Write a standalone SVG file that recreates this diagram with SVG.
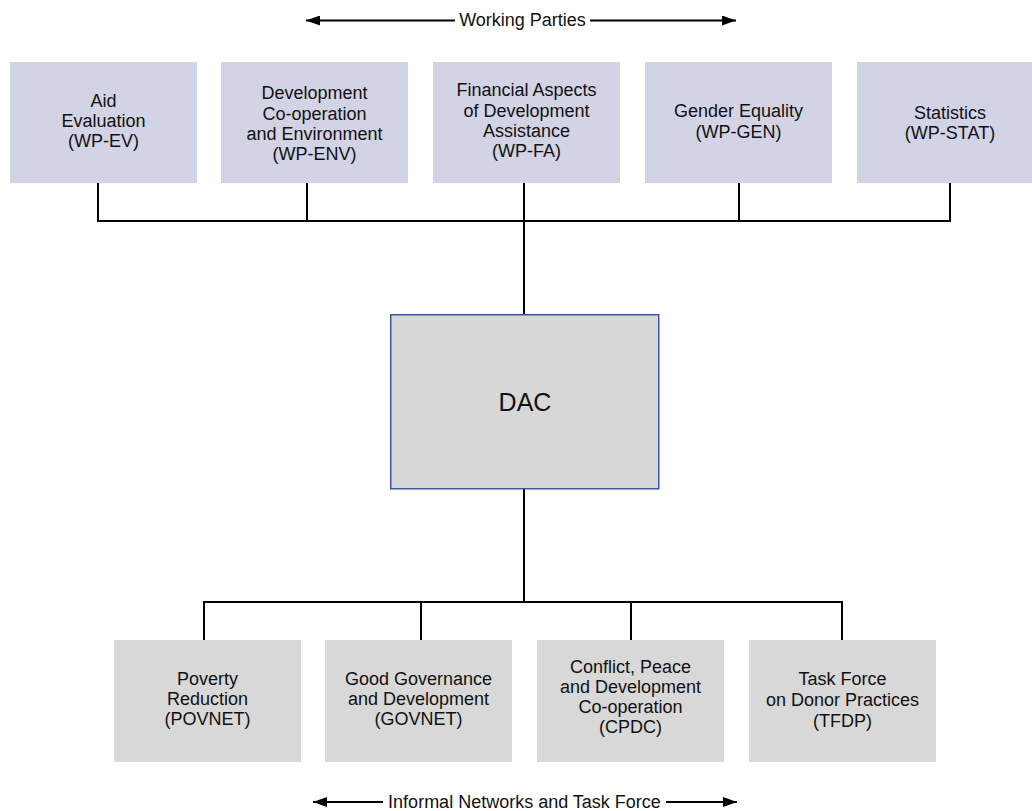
<svg xmlns="http://www.w3.org/2000/svg" width="1032" height="811" viewBox="0 0 1032 811">
<defs>
<marker id="ah" viewBox="0 0 14 10" refX="14" refY="5" markerWidth="14" markerHeight="10" markerUnits="userSpaceOnUse" orient="auto-start-reverse">
<path d="M0,0 L14,5 L0,10 z" fill="#000"/>
</marker>
</defs>
<style>
text{font-family:"Liberation Sans",Arial,sans-serif;font-size:18px;fill:#111;text-anchor:middle}
.wp{fill:#d3d3e6}
.net{fill:#d8d8d8}
.dac{fill:#d7d7d7;stroke:#3c56a3;stroke-width:1.5}
.ln{fill:none;stroke:#000;stroke-width:2}
.arr{fill:none;stroke:#000;stroke-width:1.8}
</style>
<rect width="1032" height="811" fill="#fff"/>
<g id="connectors">
<polyline class="ln" points="98,183 98,221 950,221 950,183"/>
<line class="ln" x1="307" y1="183" x2="307" y2="221"/>
<line class="ln" x1="524" y1="183" x2="524" y2="314"/>
<line class="ln" x1="739" y1="183" x2="739" y2="221"/>
<line class="ln" x1="524" y1="489" x2="524" y2="602"/>
<polyline class="ln" points="204,640 204,602 842,602 842,640"/>
<line class="ln" x1="421" y1="602" x2="421" y2="640"/>
<line class="ln" x1="631" y1="602" x2="631" y2="640"/>
</g>
<g id="working-parties-label">
<line class="arr" x1="455" y1="20.5" x2="306" y2="20.5" marker-end="url(#ah)"/>
<line class="arr" x1="590" y1="20.5" x2="736" y2="20.5" marker-end="url(#ah)"/>
<text x="522.5" y="26">Working Parties</text>
</g>
<g id="wp-ev">
<rect class="wp" x="10" y="62" width="187" height="121"/>
<text x="103.5" y="107">Aid</text>
<text x="103.5" y="127">Evaluation</text>
<text x="103.5" y="147">(WP-EV)</text>
</g>
<g id="wp-env">
<rect class="wp" x="221" y="62" width="187" height="121"/>
<text x="314.5" y="99">Development</text>
<text x="314.5" y="119.5">Co-operation</text>
<text x="314.5" y="140">and Environment</text>
<text x="314.5" y="160">(WP-ENV)</text>
</g>
<g id="wp-fa">
<rect class="wp" x="433" y="62" width="187" height="121"/>
<text x="526.5" y="96">Financial Aspects</text>
<text x="526.5" y="116.5">of Development</text>
<text x="526.5" y="137">Assistance</text>
<text x="526.5" y="157">(WP-FA)</text>
</g>
<g id="wp-gen">
<rect class="wp" x="645" y="62" width="187" height="121"/>
<text x="738.5" y="117">Gender Equality</text>
<text x="738.5" y="137.5">(WP-GEN)</text>
</g>
<g id="wp-stat">
<rect class="wp" x="857" y="62" width="187" height="121"/>
<text x="950" y="118.5">Statistics</text>
<text x="950" y="139">(WP-STAT)</text>
</g>
<g id="dac">
<rect class="dac" x="390.75" y="314.75" width="268" height="174"/>
<text x="525" y="411" style="font-size:25px">DAC</text>
</g>
<g id="povnet">
<rect class="net" x="114" y="640" width="187" height="122"/>
<text x="207.5" y="685">Poverty</text>
<text x="207.5" y="705">Reduction</text>
<text x="207.5" y="725">(POVNET)</text>
</g>
<g id="govnet">
<rect class="net" x="325" y="640" width="187" height="122"/>
<text x="418.5" y="685">Good Governance</text>
<text x="418.5" y="705">and Development</text>
<text x="418.5" y="725">(GOVNET)</text>
</g>
<g id="cpdc">
<rect class="net" x="537" y="640" width="187" height="122"/>
<text x="630.5" y="673">Conflict, Peace</text>
<text x="630.5" y="693">and Development</text>
<text x="630.5" y="713">Co-operation</text>
<text x="630.5" y="733">(CPDC)</text>
</g>
<g id="tfdp">
<rect class="net" x="749" y="640" width="187" height="122"/>
<text x="842.5" y="684.5">Task Force</text>
<text x="842.5" y="705.5">on Donor Practices</text>
<text x="842.5" y="726.5">(TFDP)</text>
</g>
<g id="networks-label">
<line class="arr" x1="383" y1="802" x2="313" y2="802" marker-end="url(#ah)"/>
<line class="arr" x1="666" y1="802" x2="737" y2="802" marker-end="url(#ah)"/>
<text x="524.5" y="807.5">Informal Networks and Task Force</text>
</g>
</svg>
